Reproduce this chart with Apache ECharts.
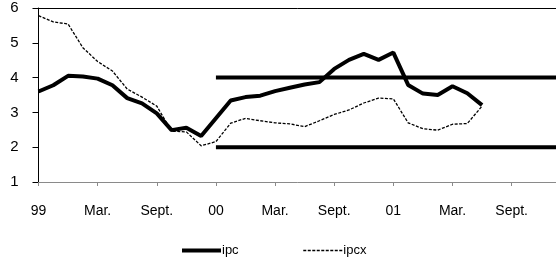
<!DOCTYPE html>
<html>
<head>
<meta charset="utf-8">
<script src="https://cdn.jsdelivr.net/npm/echarts@6/dist/echarts.min.js"></script>
<style>
  html, body { margin: 0; padding: 0; background: #fff; }
  #main { width: 556px; height: 263px; }
</style>
</head>
<body>
<div id="main"></div>
<script>
// etiquetas del eje x (una cada 4 periodos)
var tickLabels = ['99', 'Mar.', 'Sept.', '00', 'Mar.', 'Sept.', '01', 'Mar.', 'Sept.'];

// ipc (linea gruesa)
var ipc = [3.60, 3.78, 4.05, 4.03, 3.97, 3.78, 3.41, 3.26, 2.97, 2.49,
           2.56, 2.32, 2.83, 3.34, 3.44, 3.48, 3.61, 3.71, 3.80, 3.87,
           4.25, 4.51, 4.68, 4.51, 4.72, 3.79, 3.54, 3.50, 3.75, 3.55,
           3.21];

// ipcx (linea punteada)
var ipcx = [5.78, 5.60, 5.54, 4.86, 4.46, 4.19, 3.67, 3.44, 3.18, 2.46,
            2.44, 2.04, 2.16, 2.69, 2.83, 2.76, 2.70, 2.67, 2.59, 2.76,
            2.94, 3.07, 3.27, 3.41, 3.39, 2.70, 2.53, 2.49, 2.66, 2.68,
            3.18];

// banda meta 2% - 4% desde 00
var bandHigh = [null, null, null, null, null, null, null, null, null, null, null, null,
                4, 4, 4, 4, 4, 4, 4, 4, 4, 4, 4, 4, 4, 4, 4, 4, 4, 4, 4, 4, 4, 4, 4, 4];
var bandLow = [null, null, null, null, null, null, null, null, null, null, null, null,
               2, 2, 2, 2, 2, 2, 2, 2, 2, 2, 2, 2, 2, 2, 2, 2, 2, 2, 2, 2, 2, 2, 2, 2];

var categories = [];
for (var i = 0; i < bandHigh.length; i++) {
    categories.push(i % 4 === 0 ? (tickLabels[i / 4] || '') : '');
}

var myChart = echarts.init(document.getElementById('main'));
var font = 'Liberation Sans, Arial, sans-serif';

var option = {
    animation: false,
    grid: { left: 38.5, top: 8, right: -2, bottom: 81 },
    legend: {
        data: ['ipc', 'ipcx'],
        left: 175,
        top: 239,
        itemWidth: 39,
        itemHeight: 14,
        itemGap: 64,
        itemStyle: { opacity: 0 },
        lineStyle: { width: 'inherit' },
        textStyle: { fontFamily: font, fontSize: 13, color: '#000', padding: [8, 0, 0, -4] }
    },
    xAxis: [
        {
            type: 'category',
            data: categories,
            boundaryGap: false,
            axisLine: { lineStyle: { color: '#8a8a8a', width: 1 } },
            axisTick: { interval: 3, length: 4, lineStyle: { color: '#8a8a8a' } },
            axisLabel: { interval: 3, margin: 22, color: '#000', fontFamily: font, fontSize: 14 },
            splitLine: { show: false }
        },
        {
            type: 'category',
            data: categories,
            boundaryGap: false,
            position: 'top',
            axisLine: { lineStyle: { color: '#000', width: 1 } },
            axisTick: { show: false },
            axisLabel: { show: false },
            splitLine: { show: false }
        }
    ],
    yAxis: {
        type: 'value',
        min: 1,
        max: 6,
        interval: 1,
        axisLine: { show: true, lineStyle: { color: '#000', width: 1 } },
        axisTick: { show: true, length: 6, lineStyle: { color: '#000' } },
        axisLabel: { margin: 20, color: '#000', fontFamily: font, fontSize: 15 },
        splitLine: { show: false }
    },
    series: [
        {
            name: 'banda sup',
            type: 'line',
            data: bandHigh,
            symbol: 'none',
            silent: true,
            lineStyle: { color: '#000', width: 4 }
        },
        {
            name: 'banda inf',
            type: 'line',
            data: bandLow,
            symbol: 'none',
            silent: true,
            lineStyle: { color: '#000', width: 4 }
        },
        {
            name: 'ipcx',
            type: 'line',
            data: ipcx,
            symbol: 'none',
            itemStyle: { color: '#000' },
            lineStyle: { color: '#000', width: 1.3, type: [3, 1.5] }
        },
        {
            name: 'ipc',
            type: 'line',
            data: ipc,
            symbol: 'none',
            itemStyle: { color: '#000' },
            lineStyle: { color: '#000', width: 4 }
        }
    ]
};
myChart.setOption(option);
</script>
</body>
</html>
